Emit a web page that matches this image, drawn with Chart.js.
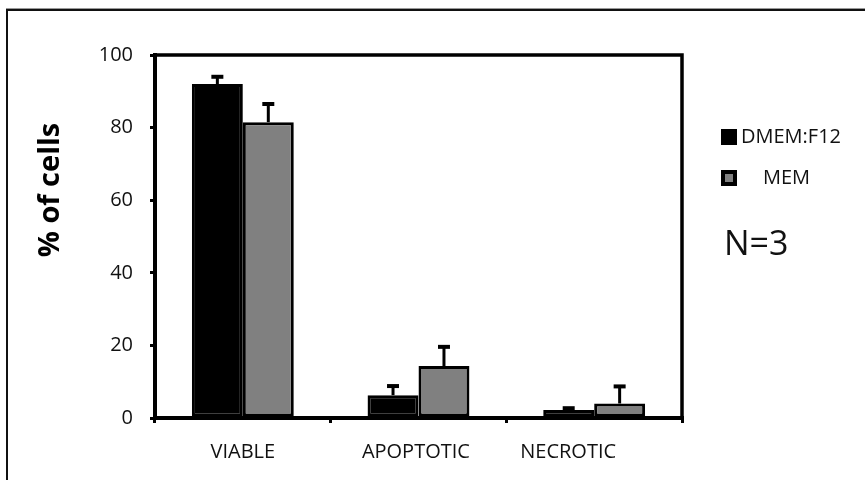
<!DOCTYPE html>
<html>
<head>
<meta charset="utf-8">
<script src="https://cdn.jsdelivr.net/npm/chart.js@4"></script>
<style>
  body { margin: 0; background: #fff; }
  #chart { display: block; }
</style>
</head>
<body>
<canvas id="chart" width="865" height="480"></canvas>
<script>
const categories = ['VIABLE', 'APOPTOTIC', 'NECROTIC'];
const dmemValues = [92, 6.3, 2.2];
const dmemErrors = [2, 2.5, 0.5];
const memValues = [81.5, 14.3, 4];
const memErrors = [5, 5.3, 4.7];
const yTicks = [0, 20, 40, 60, 80, 100];
const seriesNames = ['DMEM:F12', 'MEM'];
// the original labels sit a little left of their groups
const labelPad = ['', ' ', '          '];

const FONT = '"Open Sans", "Liberation Sans", sans-serif';

// frame, box around plot, error bars, legend, notes
const decorations = {
    id: 'decorations',
    beforeDraw(chart) {
        const c = chart.ctx;
        c.save();
        c.fillStyle = '#fff';
        c.fillRect(0, 0, chart.width, chart.height);
        c.fillStyle = '#999';
        c.fillRect(6, 8, chart.width, 1);
        c.fillStyle = '#111';
        c.fillRect(6, 9, chart.width, 2);
        c.fillRect(6, 9, 2, chart.height);
        c.restore();
    },
    afterDatasetsDraw(chart) {
        const c = chart.ctx;
        const y = chart.scales.y;
        const errs = [dmemErrors, memErrors];
        c.save();
        c.strokeStyle = '#000';
        chart.data.datasets.forEach((ds, i) => {
            chart.getDatasetMeta(i).data.forEach((bar, j) => {
                const top = y.getPixelForValue(ds.data[j] + errs[i][j]);
                c.lineWidth = 3;
                c.beginPath();
                c.moveTo(bar.x, bar.y);
                c.lineTo(bar.x, top);
                c.stroke();
                c.lineWidth = 4;
                c.beginPath();
                c.moveTo(bar.x - 6, top);
                c.lineTo(bar.x + 6, top);
                c.stroke();
            });
        });
        c.restore();
    },
    afterDraw(chart) {
        const c = chart.ctx;
        const a = chart.chartArea;
        c.save();
        // top and right sides of the plot box
        c.strokeStyle = '#000';
        c.lineWidth = 3.5;
        c.beginPath();
        c.moveTo(a.left, a.top);
        c.lineTo(a.right, a.top);
        c.lineTo(a.right, a.bottom);
        c.stroke();

        // y title
        c.fillStyle = '#000';
        c.font = 'bold 29px ' + FONT;
        c.textAlign = 'center';
        c.textBaseline = 'middle';
        c.translate(51, 190);
        c.rotate(-Math.PI / 2);
        c.fillText('% of cells', 0, 0);
        c.restore();

        // legend
        c.save();
        const ds = chart.data.datasets;
        const rows = [137, 178];
        const textX = [741, 763];
        rows.forEach((ry, i) => {
            c.fillStyle = '#000';
            c.fillRect(721, ry - 8, 16, 16);
            if (i === 1) {
                c.fillStyle = ds[1].backgroundColor;
                c.fillRect(725, ry - 4, 8, 8);
            }
            c.fillStyle = '#111';
            c.font = '20px ' + FONT;
            c.textAlign = 'left';
            c.textBaseline = 'middle';
            c.fillText(seriesNames[i], textX[i], ry);
        });
        c.font = '34px ' + FONT;
        c.fillText('N=3', 724, 245);
        c.restore();
    }
};

new Chart(document.getElementById('chart'), {
    type: 'bar',
    data: {
        labels: categories,
        datasets: [
            { label: seriesNames[0], data: dmemValues, backgroundColor: '#000', borderColor: '#000', borderWidth: 3 },
            { label: seriesNames[1], data: memValues, backgroundColor: '#808080', borderColor: '#000', borderWidth: 3 }
        ]
    },
    options: {
        responsive: false,
        animation: false,
        layout: { padding: { left: 0, top: 55, right: 183, bottom: 0 } },
        datasets: { bar: { categoryPercentage: 0.58, barPercentage: 1, borderSkipped: false } },
        plugins: { legend: { display: false }, tooltip: { enabled: false } },
        scales: {
            x: {
                afterFit: s => { s.height = 62; },
                grid: { offset: true, drawOnChartArea: false, tickLength: 5, color: '#000', lineWidth: 3 },
                border: { color: '#000', width: 4 },
                ticks: {
                    color: '#111', font: { family: FONT, size: 20 }, padding: 17,
                    callback: (v, i) => categories[i] + labelPad[i]
                }
            },
            y: {
                min: 0, max: 100,
                afterFit: s => { s.width = 155; },
                afterBuildTicks: s => { s.ticks = yTicks.map(v => ({ value: v })); },
                grid: { drawOnChartArea: false, tickLength: 5, color: '#000', lineWidth: 3 },
                border: { color: '#000', width: 4 },
                ticks: { color: '#111', font: { family: FONT, size: 20 }, padding: 17 }
            }
        }
    },
    plugins: [decorations]
});
</script>
</body>
</html>
